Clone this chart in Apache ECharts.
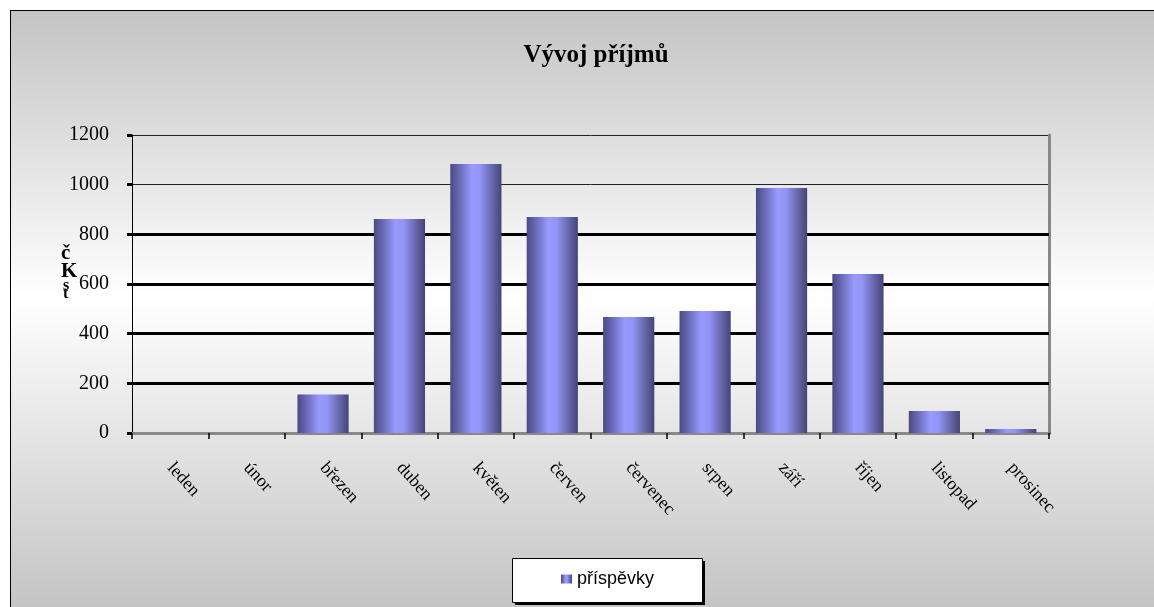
<!DOCTYPE html>
<html>
<head>
<meta charset="utf-8">
<script src="https://cdn.jsdelivr.net/npm/echarts@6/dist/echarts.min.js"></script>
<style>
html,body{margin:0;padding:0;width:1154px;height:607px;overflow:hidden;background:#fff;}
#wrap{position:absolute;left:10px;top:10px;width:1143px;height:596px;border-left:1px solid #000;border-top:1px solid #000;
background:linear-gradient(to bottom,#c4c4c4 0%,#ffffff 48%,#c4c4c4 100%);}
#chart{width:1143px;height:596px;}
</style>
</head>
<body>
<div id="wrap"><div id="chart"></div></div>
<script>
var categories = ['leden','únor','březen','duben','květen','červen','červenec','srpen','září','říjen','listopad','prosinec'];
var prispevky = [0, 0, 155, 862, 1083, 870, 467, 491, 987, 640, 89, 16];
var yTicks = [0, 200, 400, 600, 800, 1000, 1200];
var thickLines = [200, 400, 600, 800];

var chart = echarts.init(document.getElementById('chart'), null, {renderer:'canvas'});
var barGrad = new echarts.graphic.LinearGradient(0,0,1,0,[
  {offset:0,color:'#4a4a82'},
  {offset:0.18,color:'#6a6ab8'},
  {offset:0.42,color:'#9999ff'},
  {offset:0.58,color:'#9494f6'},
  {offset:0.8,color:'#6a6ab0'},
  {offset:1,color:'#454578'}
]);
var option = {
  animation:false,
  title:{
    text:'Vývoj příjmů', left:580, top:27, textAlign:'center',
    textStyle:{fontFamily:'Liberation Serif', fontWeight:'bold', fontSize:25, color:'#000'}
  },
  legend:{
    left:550, top:559, icon:'rect', itemWidth:11, itemHeight:9,
    padding:0, z:20,
    textStyle:{fontFamily:'Liberation Sans', fontSize:18, color:'#000'},
    data:['příspěvky']
  },
  grid:{left:121, top:124, width:917, height:298, outerBoundsMode:'none'},
  graphic:[{
    type:'rect', left:504, top:550, z:5, silent:true,
    shape:{width:190, height:44}, style:{fill:'#000'}
  },{
    type:'rect', left:501, top:547, z:6, silent:true,
    shape:{width:190, height:44}, style:{fill:'#fff', stroke:'#000', lineWidth:1}
  },{
    type:'text', left:50, top:232, z:10,
    style:{text:'č\nK', font:'bold 21px "Liberation Serif"', fill:'#000', lineHeight:18, align:'center'}
  },{
    type:'text', left:52, top:267, z:10,
    style:{text:'s\nt', font:'bold 16px "Liberation Serif"', fill:'#000', lineHeight:8, align:'center'}
  }],
  xAxis:[{
    type:'category', data:categories, position:'bottom',
    axisLine:{lineStyle:{color:'#000', width:3}},
    axisTick:{show:true, alignWithLabel:false, length:6, lineStyle:{color:'#000', width:1.5}},
    axisLabel:{rotate:-48, margin:32, interval:0, fontFamily:'Liberation Serif', fontSize:18, color:'#000'},
    splitLine:{show:false}
  },{
    type:'category', data:categories, position:'top',
    axisLine:{lineStyle:{color:'#888', width:3}},
    axisTick:{show:false}, axisLabel:{show:false}
  }],
  yAxis:[{
    type:'value', min:yTicks[0], max:yTicks[yTicks.length-1], interval:200,
    axisLine:{show:true, lineStyle:{color:'#000', width:1}},
    axisTick:{show:true, length:5, lineStyle:{color:'#000', width:3}},
    axisLabel:{margin:23, fontFamily:'Liberation Serif', fontSize:20, color:'#000', formatter:function(v){return String(v);}},
    splitLine:{show:true, lineStyle:{color:'#222', width:1}}
  },{
    type:'value', position:'right', min:yTicks[0], max:yTicks[yTicks.length-1], interval:200,
    axisLine:{show:true, lineStyle:{color:'#888', width:3}},
    axisTick:{show:false}, axisLabel:{show:false}, splitLine:{show:false}
  }],
  series:[{
    name:'příspěvky', type:'bar', data:prispevky, barCategoryGap:'33%',
    itemStyle:{color:barGrad},
    z:3,
    markLine:{
      z:1, symbol:'none', silent:true, label:{show:false},
      lineStyle:{color:'#000', width:3, type:'solid'},
      data:thickLines.map(function(v){return {yAxis:v};})
    }
  }]
};
chart.setOption(option);
</script>
</body>
</html>
